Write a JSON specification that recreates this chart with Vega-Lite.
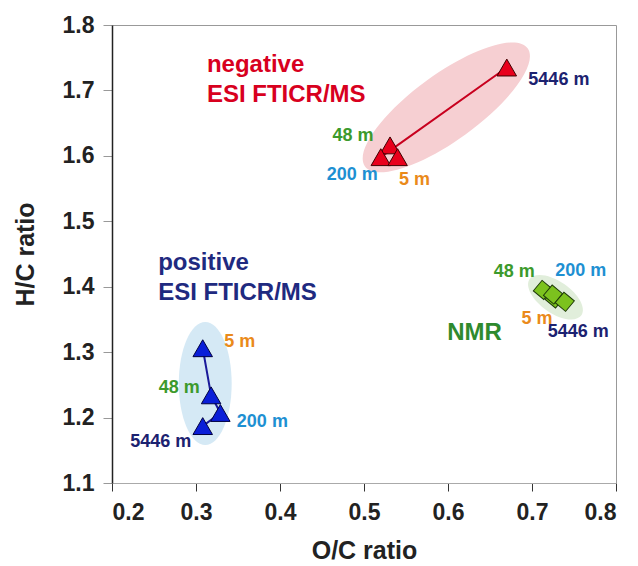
{
  "$schema": "https://vega.github.io/schema/vega-lite/v6.json",
  "width": 504,
  "height": 458,
  "autosize": {"type": "none"},
  "padding": {"left": 112, "top": 25, "right": 22, "bottom": 83},
  "background": "white",
  "config": {
    "view": {"stroke": "#999", "strokeWidth": 1},
    "axis": {"labelFont": "Liberation Sans", "labelFontWeight": "bold", "labelFontSize": 23, "labelColor": "#222", "titleFont": "Liberation Sans", "titleFontWeight": "bold", "titleFontSize": 25, "titleColor": "#222", "grid": false}
  },
  "resolve": {"scale": {"color": "independent"}},
  "datasets": {
    "points": [
      {"series": "neg", "depth": "48 m", "ord": 2, "oc": 0.531, "hc": 1.616},
      {"series": "neg", "depth": "200 m", "ord": 3, "oc": 0.520, "hc": 1.598},
      {"series": "neg", "depth": "5 m", "ord": 1, "oc": 0.540, "hc": 1.598},
      {"series": "neg", "depth": "5446 m", "ord": 4, "oc": 0.670, "hc": 1.735},
      {"series": "pos", "depth": "5 m", "ord": 1, "oc": 0.308, "hc": 1.306},
      {"series": "pos", "depth": "48 m", "ord": 2, "oc": 0.318, "hc": 1.234},
      {"series": "pos", "depth": "200 m", "ord": 3, "oc": 0.329, "hc": 1.207},
      {"series": "pos", "depth": "5446 m", "ord": 4, "oc": 0.308, "hc": 1.187},
      {"series": "nmr", "depth": "5 m", "ord": 1, "oc": 0.727, "hc": 1.382},
      {"series": "nmr", "depth": "48 m", "ord": 2, "oc": 0.713, "hc": 1.395},
      {"series": "nmr", "depth": "200 m", "ord": 3, "oc": 0.725, "hc": 1.388},
      {"series": "nmr", "depth": "5446 m", "ord": 4, "oc": 0.739, "hc": 1.377}
    ],
    "labels": [
      {"depth": "5446 m", "oc": 0.732, "hc": 1.716},
      {"depth": "48 m", "oc": 0.487, "hc": 1.630},
      {"depth": "200 m", "oc": 0.486, "hc": 1.570},
      {"depth": "5 m", "oc": 0.560, "hc": 1.563},
      {"depth": "5 m", "oc": 0.352, "hc": 1.315},
      {"depth": "48 m", "oc": 0.280, "hc": 1.245},
      {"depth": "200 m", "oc": 0.379, "hc": 1.193},
      {"depth": "5446 m", "oc": 0.258, "hc": 1.163},
      {"depth": "48 m", "oc": 0.679, "hc": 1.422},
      {"depth": "200 m", "oc": 0.758, "hc": 1.424},
      {"depth": "5 m", "oc": 0.706, "hc": 1.350},
      {"depth": "5446 m", "oc": 0.755, "hc": 1.331}
    ],
    "titles": [
      {"group": "neg", "text": "negative", "oc": 0.313, "hc": 1.728},
      {"group": "neg", "text": "ESI FTICR/MS", "oc": 0.313, "hc": 1.682},
      {"group": "pos", "text": "positive", "oc": 0.255, "hc": 1.425},
      {"group": "pos", "text": "ESI FTICR/MS", "oc": 0.255, "hc": 1.380},
      {"group": "nmr", "text": "NMR", "oc": 0.599, "hc": 1.318}
    ],
    "ellipses": [
      {"series": "neg", "oc": 0.598, "hc": 1.674},
      {"series": "pos", "oc": 0.311, "hc": 1.252},
      {"series": "nmr", "oc": 0.728, "hc": 1.384}
    ],
    "vrules": [{"oc": 0.5}],
    "hrules": [{"hc": 1.5}]
  },
  "encoding": {
    "x": {"field": "oc", "type": "quantitative", "scale": {"domain": [0.2, 0.8], "nice": false, "zero": false},
      "axis": {"title": "O/C ratio", "values": [0.2, 0.3, 0.4, 0.5, 0.6, 0.7, 0.8], "format": ".1f", "domainColor": "#aaa", "tickColor": "#333", "tickSize": 8, "labelPadding": 10, "titlePadding": 14}},
    "y": {"field": "hc", "type": "quantitative", "scale": {"domain": [1.1, 1.8], "nice": false, "zero": false},
      "axis": {"title": "H/C ratio", "values": [1.1, 1.2, 1.3, 1.4, 1.5, 1.6, 1.7, 1.8], "format": ".1f", "domainColor": "#222", "domainWidth": 1.5, "tickColor": "#999", "tickSize": 9, "labelPadding": 9, "titlePadding": 24}}
  },
  "layer": [
    {"data": {"name": "vrules"}, "mark": {"type": "rule", "color": "#bbb", "strokeDash": [2, 4], "strokeWidth": 1.5}, "encoding": {"x": {"field": "oc", "type": "quantitative"}, "y": {"datum": 1.1}, "y2": {"datum": 1.8}}},
    {"data": {"name": "hrules"}, "mark": {"type": "rule", "color": "#bbb", "strokeDash": [2, 4], "strokeWidth": 1.5}, "encoding": {"y": {"field": "hc", "type": "quantitative"}, "x": {"datum": 0.2}, "x2": {"datum": 0.8}}},
    {"data": {"name": "ellipses"}, "transform": [{"filter": "datum.series == 'neg'"}],
      "mark": {"type": "point", "filled": true, "fill": "#f6cfd2", "opacity": 1, "strokeWidth": 0, "shape": "M-1,0A1,0.33 0 1,1 1,0A1,0.33 0 1,1 -1,0Z", "size": 40400, "angle": 324}},
    {"data": {"name": "ellipses"}, "transform": [{"filter": "datum.series == 'pos'"}],
      "mark": {"type": "point", "filled": true, "fill": "#d5e9f5", "opacity": 1, "strokeWidth": 0, "shape": "M0,-1A0.43,1 0 1,1 0,1A0.43,1 0 1,1 0,-1Z", "size": 15129, "angle": 0}},
    {"data": {"name": "ellipses"}, "transform": [{"filter": "datum.series == 'nmr'"}],
      "mark": {"type": "point", "filled": true, "fill": "#e1eedb", "opacity": 1, "strokeWidth": 0, "shape": "M-1,0A1,0.5 0 1,1 1,0A1,0.5 0 1,1 -1,0Z", "size": 4000, "angle": 35}},
    {"data": {"name": "points"}, "transform": [{"filter": "datum.series == 'neg'"}],
      "mark": {"type": "line", "color": "#c8001e", "strokeWidth": 2}, "encoding": {"order": {"field": "ord", "type": "quantitative"}}},
    {"data": {"name": "points"}, "transform": [{"filter": "datum.series == 'pos'"}],
      "mark": {"type": "line", "color": "#1a1a9a", "strokeWidth": 2}, "encoding": {"order": {"field": "ord", "type": "quantitative"}}},
    {"data": {"name": "points"}, "transform": [{"filter": "datum.series == 'neg'"}],
      "mark": {"type": "point", "shape": "triangle-up", "filled": true, "fill": "#e8001c", "stroke": "#400000", "strokeWidth": 1, "opacity": 1, "size": 380}},
    {"data": {"name": "points"}, "transform": [{"filter": "datum.series == 'pos'"}],
      "mark": {"type": "point", "shape": "triangle-up", "filled": true, "fill": "#0a1ed8", "stroke": "#000040", "strokeWidth": 1, "opacity": 1, "size": 380}},
    {"data": {"name": "points"}, "transform": [{"filter": "datum.series == 'nmr'"}],
      "mark": {"type": "point", "shape": "square", "filled": true, "fill": "#7cc21e", "stroke": "#1e3a08", "strokeWidth": 1, "opacity": 1, "size": 185, "angle": 40}},
    {"data": {"name": "labels"},
      "mark": {"type": "text", "font": "Liberation Sans", "fontWeight": "bold", "fontSize": 18, "align": "center", "baseline": "middle"},
      "encoding": {"text": {"field": "depth"}, "color": {"field": "depth", "type": "nominal", "scale": {"domain": ["5 m", "48 m", "200 m", "5446 m"], "range": ["#ea8a1a", "#3c9a2c", "#1e90d2", "#1c2270"]}, "legend": null}}},
    {"data": {"name": "titles"},
      "mark": {"type": "text", "font": "Liberation Sans", "fontWeight": "bold", "fontSize": 24, "align": "left", "baseline": "alphabetic"},
      "encoding": {"text": {"field": "text"}, "color": {"field": "group", "type": "nominal", "scale": {"domain": ["neg", "pos", "nmr"], "range": ["#d8001e", "#1f2a80", "#2e8a2e"]}, "legend": null}}}
  ]
}
